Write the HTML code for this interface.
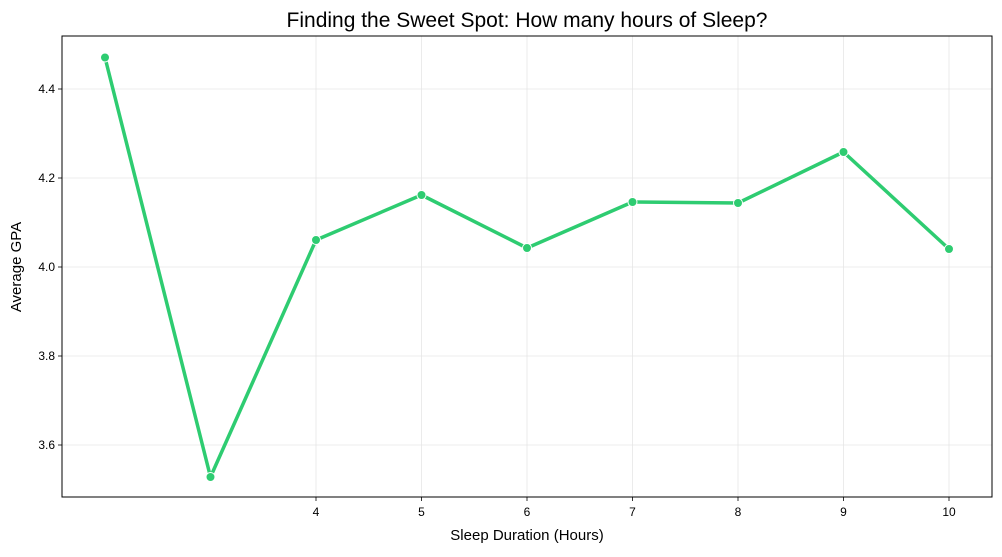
<!DOCTYPE html>
<html><head><meta charset="utf-8"><style>
body{margin:0;background:#fff;}
svg text{font-family:"Liberation Sans","DejaVu Sans",sans-serif;fill:#000;}
</style></head><body>
<svg width="1002" height="552" viewBox="0 0 1002 552" xmlns="http://www.w3.org/2000/svg">
<rect width="1002" height="552" fill="#fff"/>
<g stroke="#e6e6e6" stroke-width="0.8">
<line x1="316" y1="36" x2="316" y2="497"/><line x1="421.5" y1="36" x2="421.5" y2="497"/>
<line x1="527" y1="36" x2="527" y2="497"/><line x1="632.5" y1="36" x2="632.5" y2="497"/>
<line x1="738" y1="36" x2="738" y2="497"/><line x1="843.5" y1="36" x2="843.5" y2="497"/>
<line x1="949" y1="36" x2="949" y2="497"/>
<line x1="62" y1="89" x2="992" y2="89"/><line x1="62" y1="178" x2="992" y2="178"/>
<line x1="62" y1="267" x2="992" y2="267"/><line x1="62" y1="356" x2="992" y2="356"/>
<line x1="62" y1="445" x2="992" y2="445"/>
</g>
<rect x="62" y="36" width="930" height="461" fill="none" stroke="#000" stroke-width="1"/>
<g stroke="#000" stroke-width="0.8">
<line x1="316" y1="497" x2="316" y2="501"/><line x1="421.5" y1="497" x2="421.5" y2="501"/>
<line x1="527" y1="497" x2="527" y2="501"/><line x1="632.5" y1="497" x2="632.5" y2="501"/>
<line x1="738" y1="497" x2="738" y2="501"/><line x1="843.5" y1="497" x2="843.5" y2="501"/>
<line x1="949" y1="497" x2="949" y2="501"/>
<line x1="58" y1="89" x2="62" y2="89"/><line x1="58" y1="178" x2="62" y2="178"/>
<line x1="58" y1="267" x2="62" y2="267"/><line x1="58" y1="356" x2="62" y2="356"/>
<line x1="58" y1="445" x2="62" y2="445"/>
</g>
<g font-size="12" text-anchor="middle">
<text x="316" y="516">4</text><text x="421.5" y="516">5</text><text x="527" y="516">6</text>
<text x="632.5" y="516">7</text><text x="738" y="516">8</text><text x="843.5" y="516">9</text>
<text x="949" y="516">10</text>
</g>
<g font-size="12" text-anchor="end">
<text x="55" y="93">4.4</text><text x="55" y="182">4.2</text><text x="55" y="271">4.0</text>
<text x="55" y="360">3.8</text><text x="55" y="449">3.6</text>
</g>
<text x="527" y="540" font-size="15" text-anchor="middle">Sleep Duration (Hours)</text>
<text transform="translate(21,267) rotate(-90)" font-size="15" text-anchor="middle">Average GPA</text>
<text x="527" y="27" font-size="21" text-anchor="middle">Finding the Sweet Spot: How many hours of Sleep?</text>
<polyline fill="none" stroke="#2ecc71" stroke-width="3.5" stroke-linejoin="round" points="105,57.5 210.5,477 316,240 421.5,195 527,248 632.5,202 738,203 843.5,152 949,249"/>
<g fill="#2ecc71" stroke="#fff" stroke-width="1">
<circle cx="105" cy="57.5" r="4.5"/><circle cx="210.5" cy="477" r="4.5"/><circle cx="316" cy="240" r="4.5"/>
<circle cx="421.5" cy="195" r="4.5"/><circle cx="527" cy="248" r="4.5"/><circle cx="632.5" cy="202" r="4.5"/>
<circle cx="738" cy="203" r="4.5"/><circle cx="843.5" cy="152" r="4.5"/><circle cx="949" cy="249" r="4.5"/>
</g>
</svg>
</body></html>
